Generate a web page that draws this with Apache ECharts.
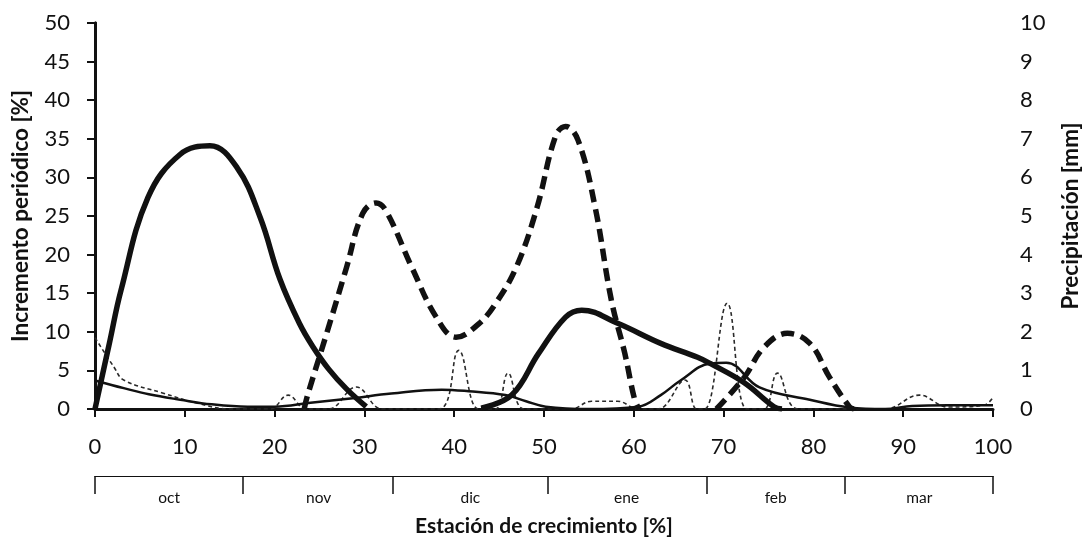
<!DOCTYPE html>
<html>
<head>
<meta charset="utf-8">
<script src="https://cdn.jsdelivr.net/npm/echarts@6/dist/echarts.min.js"></script>
<style>
  html, body { margin: 0; padding: 0; background: #fff; }
  #chart { width: 1090px; height: 544px; }
</style>
</head>
<body>
<div id="chart"></div>
<script>
// meses de la estación (límites y centros en % de la estación)
const monthNames = ["oct", "nov", "dic", "ene", "feb", "mar"];
const monthBounds = [0, 16.5, 33.2, 50.4, 68.1, 83.5, 100];
const monthMids = [8.25, 24.9, 41.8, 59.2, 75.8, 91.8];

// incremento periódico [%] - línea gruesa continua
const incSolidX = [0, 1.6, 2.9, 5.9, 9.5, 12.8, 15.8, 18.4, 20.6, 22.8, 24.3, 26, 28, 30.2, 31, 42, 43, 46.4, 49.4, 52.4, 54.2, 58.2, 63, 67.1, 68.5, 72.3, 75.6, 76.5];
const incSolidY = [0, 8.5, 15.4, 27.4, 33, 34.1, 31.3, 24.8, 16.8, 11, 8, 5.2, 2.6, 0.3, null, null, 0.1, 1.8, 7.2, 11.9, 12.8, 11.1, 8.5, 6.7, 5.9, 3.4, 0.3, 0];

// incremento periódico [%] - línea gruesa discontinua
const incDashX = [23.3, 23.6, 25.8, 28, 29.8, 31.3, 32.4, 35.3, 38, 40.2, 42.7, 44.8, 47, 49.2, 51.3, 52.4, 53.8, 55.7, 57.5, 59, 60.1, 60.6, 62, 68, 69.2, 72.3, 74.5, 77.1, 79.6, 81.8, 84, 84.5];
const incDashY = [0, 1.5, 9.8, 18.3, 25.3, 26.7, 25.7, 18.3, 11.9, 9.3, 11.0, 14.0, 18.6, 26.0, 35.4, 36.6, 34.8, 26.1, 14.1, 7.2, 1.2, 0, null, null, 0, 4.1, 8, 9.8, 8.5, 4.1, 0.3, 0];

// incremento periódico [%] - línea fina continua
const thinSolidX = [0, 3.2, 6, 9.5, 13, 17, 20, 24, 28.7, 33, 38.6, 41.6, 45.7, 48, 50.2, 55, 60.5, 63, 65.2, 68.5, 70.3, 74, 79.6, 84, 88, 91, 95, 100];
const thinSolidY = [3.7, 2.7, 1.9, 1.2, 0.6, 0.3, 0.3, 0.8, 1.4, 2, 2.5, 2.3, 1.8, 1.0, 0.3, 0, 0.3, 1.8, 3.7, 5.9, 6.0, 2.8, 1.2, 0.2, 0, 0.4, 0.5, 0.5];

// precipitación [mm] - línea fina discontinua
const rainX = [0, 2.1, 3.2, 7.6, 11.4, 15, 19.5, 21.5, 23.5, 26, 29.1, 32, 38.3, 40.5, 42.7, 44.6, 46, 47.8, 53, 55.3, 58.2, 60.5, 62.7, 65.7, 67, 67.9, 70.4, 72.6, 74.5, 76, 78.3, 88, 91.8, 95, 99, 100];
const rainY = [1.85, 1.09, 0.75, 0.41, 0.15, 0, 0, 0.36, 0, 0, 0.57, 0, 0, 1.52, 0, 0, 0.93, 0, 0, 0.2, 0.2, 0, 0, 0.75, 0, 0, 2.74, 0, 0, 0.93, 0, 0, 0.36, 0.05, 0.1, 0.3];

const yLeftTicks = { min: 0, max: 50, interval: 5 };
const yRightTicks = { min: 0, max: 10, interval: 1 };

const pairs = (xs, ys) => xs.map((x, i) => [x, ys[i] === null ? "-" : ys[i]]);

const font = "Lato, 'Open Sans', sans-serif";
const ink = "#111";
const titleStyle = { color: ink, fontSize: 22.5, fontWeight: "bold", fontFamily: font };

const options = {
  animation: false,
  backgroundColor: "#fff",
  grid: { left: 95, right: 92, top: 23, bottom: 135, containLabel: false },
  xAxis: [
    {
      type: "value",
      min: 0,
      max: 100,
      interval: 10,
      position: "bottom",
      axisLine: { show: true, onZero: false, lineStyle: { color: ink, width: 3 } },
      axisTick: { show: true, length: 8, lineStyle: { color: ink, width: 2 } },
      axisLabel: { color: ink, fontSize: 22, fontFamily: font, margin: 27 },
      splitLine: { show: false },
    },
    {
      // barra de meses
      type: "value",
      min: 0,
      max: 100,
      position: "bottom",
      offset: 67,
      axisLine: { show: true, onZero: false, lineStyle: { color: ink, width: 1.2 } },
      axisTick: {
        show: true,
        length: 18,
        customValues: monthBounds,
        lineStyle: { color: ink, width: 1.5 },
      },
      axisLabel: {
        color: ink,
        fontSize: 15.5,
        fontFamily: font,
        margin: 14,
        customValues: monthMids,
        formatter: (v) => monthNames[monthMids.indexOf(v)] || "",
      },
      splitLine: { show: false },
      name: "Estación de crecimiento [%]",
      nameLocation: "middle",
      nameGap: 40,
      nameTextStyle: { ...titleStyle, fontSize: 21 },
    },
  ],
  yAxis: [
    {
      type: "value",
      ...yLeftTicks,
      position: "left",
      axisLine: { show: true, lineStyle: { color: ink, width: 3 } },
      axisTick: { show: true, length: 8, lineStyle: { color: ink, width: 2 } },
      axisLabel: { color: ink, fontSize: 22, fontFamily: font, margin: 25 },
      splitLine: { show: false },
      name: "Incremento periódico [%]",
      nameLocation: "middle",
      nameGap: 63,
      nameTextStyle: titleStyle,
    },
    {
      type: "value",
      ...yRightTicks,
      position: "right",
      axisLine: { show: true, lineStyle: { color: ink, width: 3 } },
      axisTick: { show: true, inside: true, length: 7, lineStyle: { color: ink, width: 2 } },
      axisLabel: { color: ink, fontSize: 22, fontFamily: font, margin: 27 },
      splitLine: { show: false },
      name: "Precipitación [mm]",
      nameLocation: "middle",
      nameGap: 66,
      nameRotate: 90,
      nameTextStyle: titleStyle,
    },
  ],
  series: [
    {
      name: "rain",
      type: "line",
      yAxisIndex: 1,
      data: pairs(rainX, rainY),
      smooth: 0.4,
      symbol: "none",
      lineStyle: { color: "#2a2a2a", width: 1.6, type: [4, 3] },
    },
    {
      name: "thinSolid",
      type: "line",
      data: pairs(thinSolidX, thinSolidY),
      smooth: 0.4,
      symbol: "none",
      lineStyle: { color: ink, width: 2.5 },
    },
    {
      name: "incDash",
      type: "line",
      data: pairs(incDashX, incDashY),
      smooth: 0.4,
      symbol: "none",
      lineStyle: { color: ink, width: 5.5, type: [13, 7] },
    },
    {
      name: "incSolid",
      type: "line",
      data: pairs(incSolidX, incSolidY),
      smooth: 0.4,
      symbol: "none",
      lineStyle: { color: ink, width: 5.5 },
    },
  ],
};

const chart = echarts.init(document.getElementById("chart"));
chart.setOption(options);
</script>
</body>
</html>
